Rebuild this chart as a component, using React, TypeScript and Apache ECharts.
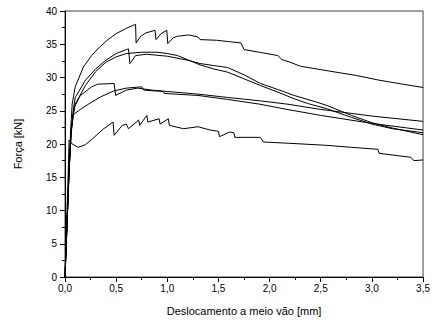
import React, { useEffect, useRef } from "react";
import * as echarts from "echarts";

// Força [kN] vs deslocamento [mm] — six test specimens
const curveA: [number, number][] = [
  [0, 0], [0.02, 8], [0.04, 16], [0.055, 22], [0.07, 26], [0.1, 28.6], [0.18, 31.6], [0.26, 33.3],
  [0.34, 34.6], [0.42, 35.7], [0.5, 36.6], [0.6, 37.4], [0.69, 38.0], [0.695, 35.2], [0.74, 36.2],
  [0.79, 36.7], [0.88, 37.1], [0.89, 35.7], [0.94, 36.6], [0.995, 37.1], [1.005, 35.1], [1.06, 36.0],
  [1.1, 36.2], [1.21, 36.4], [1.3, 36.1], [1.32, 35.7], [1.48, 35.6], [1.6, 35.4], [1.72, 35.2],
  [1.75, 34.2], [1.9, 33.8], [2.08, 33.3], [2.12, 32.7], [2.2, 32.3], [2.3, 31.7], [2.53, 31.1],
  [2.85, 30.3], [3.07, 29.6], [3.3, 29.0], [3.5, 28.5],
];
const curveB: [number, number][] = [
  [0, 0], [0.02, 8], [0.04, 16], [0.06, 22], [0.08, 25], [0.1, 27.0], [0.2, 29.6], [0.3, 31.3],
  [0.4, 32.6], [0.5, 33.6], [0.6, 34.2], [0.62, 34.3], [0.635, 32.1], [0.69, 33.3], [0.8, 33.5],
  [1.0, 33.2], [1.2, 32.6], [1.32, 32.1], [1.45, 31.8], [1.59, 31.5], [1.75, 30.4], [1.91, 29.1],
  [2.08, 28.2], [2.24, 27.3], [2.46, 26.3], [2.56, 25.8], [2.8, 24.3], [3.0, 23.2], [3.2, 22.4],
  [3.5, 21.4],
];
const curveC: [number, number][] = [
  [0, 0], [0.02, 8], [0.04, 16], [0.06, 21.5], [0.08, 24.3], [0.1, 26.0], [0.2, 28.8], [0.3, 30.9],
  [0.4, 32.3], [0.5, 33.1], [0.6, 33.6], [0.75, 33.8], [0.9, 33.8], [1.0, 33.6], [1.1, 33.3],
  [1.32, 31.9], [1.45, 31.3], [1.59, 30.8], [1.75, 29.8], [1.91, 28.8], [2.08, 27.8], [2.24, 26.8],
  [2.37, 26.1], [2.56, 25.3], [2.8, 24.0], [3.0, 23.0], [3.2, 22.3], [3.5, 21.7],
];
const curveD: [number, number][] = [
  [0, 0], [0.02, 8], [0.04, 16], [0.06, 22], [0.09, 25.5], [0.15, 27.3], [0.26, 28.6], [0.32, 29.0],
  [0.48, 29.1], [0.495, 27.3], [0.6, 28.1], [0.71, 28.4], [0.85, 28.1], [1.0, 27.9], [1.3, 27.5],
  [1.59, 27.0], [1.9, 26.5], [2.17, 26.0], [2.5, 25.2], [3.0, 24.2], [3.5, 23.4],
];
const curveE: [number, number][] = [
  [0, 0], [0.02, 8], [0.04, 16], [0.06, 22], [0.08, 24.4], [0.15, 25.2], [0.25, 26.2], [0.35, 27.1],
  [0.48, 28.0], [0.6, 28.4], [0.75, 28.6], [0.77, 28.1], [0.96, 27.9], [0.97, 27.6], [1.3, 27.3],
  [1.59, 26.7], [1.9, 26.0], [2.17, 25.2], [2.5, 24.3], [3.0, 23.1], [3.5, 22.1],
];
const curveF: [number, number][] = [
  [0, 0], [0.015, 8], [0.03, 15], [0.04, 20.6], [0.07, 20.0], [0.13, 19.5], [0.2, 19.9],
  [0.27, 20.8], [0.37, 22.2], [0.47, 23.3], [0.48, 21.3], [0.56, 22.8], [0.6, 23.0], [0.62, 22.3],
  [0.72, 23.6], [0.73, 22.8], [0.8, 24.3], [0.81, 23.3], [0.92, 23.8], [0.93, 23.0], [1.01, 23.8],
  [1.02, 22.8], [1.16, 22.3], [1.3, 22.6], [1.42, 22.1], [1.5, 21.9], [1.51, 21.1], [1.61, 21.8],
  [1.65, 21.7], [1.66, 21.0], [1.91, 21.0], [1.94, 20.3], [2.2, 20.1], [2.56, 19.8], [2.8, 19.5],
  [3.06, 19.2], [3.07, 18.6], [3.38, 18.0], [3.41, 17.5], [3.5, 17.6],
];
const curves = [curveA, curveB, curveC, curveD, curveE, curveF];

const xTicks = { min: 0, max: 3.5, interval: 0.5 };
const yTicks = { min: 0, max: 40, interval: 5 };

export default function App() {
  const ref = useRef<HTMLDivElement>(null);
  useEffect(() => {
    document.body.style.margin = "0";
    const chart = echarts.init(ref.current!, null, { renderer: "svg" });
    const font = "Liberation Sans, Arial, sans-serif";
    chart.setOption({
      animation: false,
      backgroundColor: "#fff",
      grid: {
        left: 65, top: 11, right: 5, bottom: 44, show: true,
        borderColor: "#444", borderWidth: 1, backgroundColor: "transparent",
      },
      xAxis: {
        type: "value", ...xTicks,
        name: "Deslocamento a meio vão [mm]", nameLocation: "middle", nameGap: 28,
        nameTextStyle: { fontFamily: font, fontSize: 11, color: "#000" },
        axisLine: { show: true, lineStyle: { color: "#000", width: 1 } },
        axisTick: { show: true, inside: false, length: 5, lineStyle: { color: "#000" } },
        minorTick: { show: true, splitNumber: 2, length: 3, lineStyle: { color: "#000" } },
        splitLine: { show: false },
        axisLabel: {
          margin: 6, fontFamily: font, fontSize: 10, color: "#000",
          formatter: (v: number) => v.toFixed(1).replace(".", ","),
        },
      },
      yAxis: {
        type: "value", ...yTicks,
        name: "Força [kN]", nameLocation: "middle", nameGap: 42,
        nameTextStyle: { fontFamily: font, fontSize: 11, color: "#000" },
        axisLine: { show: true, lineStyle: { color: "#000", width: 1 } },
        axisTick: { show: true, inside: false, length: 5, lineStyle: { color: "#000" } },
        minorTick: { show: true, splitNumber: 2, length: 3, lineStyle: { color: "#000" } },
        splitLine: { show: false },
        axisLabel: { margin: 8, fontFamily: font, fontSize: 10, color: "#000" },
      },
      series: curves.map((d) => ({
        type: "line", data: d, showSymbol: false, symbol: "none", smooth: false,
        lineStyle: { color: "#000", width: 1 }, clip: true,
      })),
    });
    return () => chart.dispose();
  }, []);
  return <div ref={ref} style={{ width: 433, height: 321 }} />;
}
